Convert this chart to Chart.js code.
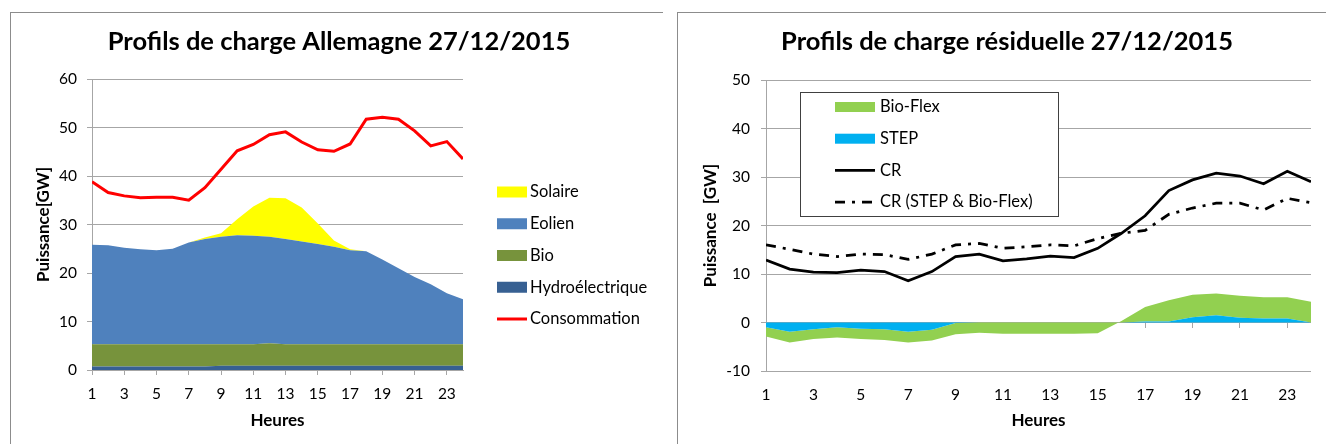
<!DOCTYPE html>
<html><head><meta charset="utf-8">
<script src="https://cdn.jsdelivr.net/npm/chart.js@4.4.1/dist/chart.umd.min.js"></script>
<style>
html,body{margin:0;padding:0;background:#fff;width:1326px;height:444px;overflow:hidden;}
.frame{position:absolute;border-left:1px solid #8c8c8c;border-top:1px solid #8c8c8c;}
canvas{position:absolute;top:0;}
</style></head><body>
<div class="frame" style="left:10px;top:12px;width:652px;height:440px"></div>
<div class="frame" style="left:677px;top:12px;width:660px;height:440px"></div>
<canvas id="c1" width="663" height="444" style="left:0"></canvas>
<canvas id="c2" width="663" height="444" style="left:663px"></canvas>
<script>
// ---------- data ----------
const hours = [1,2,3,4,5,6,7,8,9,10,11,12,13,14,15,16,17,18,19,20,21,22,23,24];
const tickHours = [1,3,5,7,9,11,13,15,17,19,21,23];

// Chart 1 : Allemagne (GW)
const hydro   = [0.7,0.7,0.7,0.7,0.7,0.7,0.7,0.7,0.9,0.9,0.9,0.9,0.9,0.9,0.9,0.9,0.9,0.9,0.9,0.9,0.9,0.9,0.9,0.9];
const bio     = [4.6,4.6,4.6,4.6,4.6,4.6,4.6,4.6,4.4,4.4,4.4,4.6,4.4,4.4,4.4,4.4,4.4,4.4,4.4,4.4,4.4,4.4,4.4,4.4];
const eolien  = [20.5,20.4,19.9,19.6,19.4,19.7,21.0,21.7,22.2,22.5,22.4,22.0,21.7,21.2,20.7,20.1,19.4,19.2,17.5,15.7,13.9,12.4,10.5,9.3];
const solaire = [0,0,0,0,0,0,0,0.3,0.7,3.3,6.0,8.0,8.4,7.0,4.2,1.3,0.2,0,0,0,0,0,0,0];
const consommation = [38.8,36.6,35.9,35.5,35.6,35.6,35.0,37.6,41.4,45.2,46.5,48.5,49.1,47.0,45.4,45.1,46.6,51.7,52.1,51.7,49.3,46.2,47.1,43.5];

// Chart 2 : charge résiduelle (GW)
const step    = [-1.0,-1.9,-1.4,-1.0,-1.3,-1.4,-1.9,-1.5,-0.1,0,0,0,0,0,0,0,0.2,0.2,1.1,1.5,1.0,0.8,0.8,0];
const bioFlex = [-1.9,-2.2,-2.0,-2.1,-2.1,-2.2,-2.2,-2.2,-2.3,-2.1,-2.3,-2.3,-2.3,-2.3,-2.2,0.3,3.0,4.4,4.6,4.5,4.5,4.4,4.4,4.3];
const cr      = [12.9,11.0,10.4,10.3,10.8,10.5,8.6,10.5,13.6,14.1,12.7,13.1,13.7,13.4,15.3,18.4,22.0,27.2,29.4,30.8,30.2,28.6,31.2,29.0];
const crFlex  = [16.0,15.1,14.1,13.6,14.1,14.0,13.0,14.1,16.0,16.3,15.3,15.6,16.0,15.8,17.3,18.4,19.0,22.3,23.6,24.6,24.6,23.2,25.6,24.7];

const pts = arr => hours.map((h,i) => ({x:h, y:arr[i]}));

// ---------- styling ----------
const FONT = 'Lato';
Chart.defaults.font.family = FONT;
Chart.defaults.color = '#000';
const GRID = '#a6a6a6';
const TICK = 15.5, AXT = 17, LEG = 16.5;

const decor = {
  id: 'decor',
  afterDraw(chart, args, o) {
    const ctx = chart.ctx;
    ctx.save();
    ctx.fillStyle = '#000';
    ctx.font = `bold ${o.titleSize}px ${FONT}`;
    ctx.textAlign = 'center';
    ctx.textBaseline = 'alphabetic';
    ctx.fillText(o.title, o.titleX, o.titleY);
    const L = o.legend;
    if (L.box) {
      ctx.fillStyle = '#fff';
      ctx.fillRect(L.box[0], L.box[1], L.box[2], L.box[3]);
      ctx.strokeStyle = '#404040';
      ctx.lineWidth = 1;
      ctx.strokeRect(L.box[0]+0.5, L.box[1]+0.5, L.box[2], L.box[3]);
    }
    L.order.forEach((di, k) => {
      const ds = chart.data.datasets[di];
      const y = L.y + k * L.dy;
      if (ds.fill !== false) {
        ctx.fillStyle = ds.backgroundColor;
        ctx.fillRect(L.x, y - L.sh/2, L.sw, L.sh);
      } else {
        ctx.strokeStyle = ds.borderColor;
        ctx.lineWidth = ds.borderWidth;
        ctx.setLineDash(ds.borderDash || []);
        ctx.beginPath();
        ctx.moveTo(L.x, y); ctx.lineTo(L.x + L.sw, y);
        ctx.stroke();
        ctx.setLineDash([]);
      }
      ctx.fillStyle = '#000';
      ctx.font = `${L.fontSize}px ${FONT}`;
      ctx.textAlign = 'left';
      ctx.textBaseline = 'middle';
      ctx.fillText(ds.label, L.x + L.sw + L.gap, y);
    });
    ctx.restore();
  }
};

function xAxis(height, opts) {
  return Object.assign({
    type: 'linear', min: 1, max: 24,
    afterBuildTicks: a => { a.ticks = tickHours.map(v => ({value: v})); },
    ticks: { font: {size: TICK}, padding: 10, autoSkip: false, maxRotation: 0 },
    grid: { drawOnChartArea: false, tickLength: 5, color: GRID },
    border: { color: GRID },
    title: { display: true, text: 'Heures', font: {size: AXT, weight: 'bold'}, padding: {top: 4, bottom: 4} },
    afterFit: s => { s.height = height; }
  }, opts || {});
}

// ---------- chart 1 ----------
new Chart(document.getElementById('c1'), {
  type: 'line',
  data: {
    datasets: [
      {label: 'Hydroélectrique', data: pts(hydro), backgroundColor: '#376092', borderWidth: 0, fill: 'origin', stack: 'prod'},
      {label: 'Bio', data: pts(bio), backgroundColor: '#77933C', borderWidth: 0, fill: '-1', stack: 'prod'},
      {label: 'Eolien', data: pts(eolien), backgroundColor: '#4F81BD', borderWidth: 0, fill: '-1', stack: 'prod'},
      {label: 'Solaire', data: pts(solaire), backgroundColor: '#FFFF00', borderWidth: 0, fill: '-1', stack: 'prod'},
      {label: 'Consommation', data: pts(consommation), borderColor: '#FF0000', borderWidth: 3, fill: false, stack: 'cons'}
    ]
  },
  options: {
    responsive: false, animation: false,
    layout: { padding: {left: 29, top: 79, right: 200, bottom: 9} },
    elements: { point: {radius: 0}, line: {tension: 0} },
    plugins: {
      legend: {display: false}, tooltip: {enabled: false},
      decor: {
        title: 'Profils de charge Allemagne 27/12/2015', titleSize: 25.5, titleX: 339, titleY: 50,
        legend: {order: [3,2,1,0,4], x: 497, y: 192, dy: 31.75, sw: 30, sh: 11, gap: 3, fontSize: LEG}
      }
    },
    scales: {
      x: xAxis(65),
      y: {
        stacked: true, min: 0, max: 60,
        ticks: { stepSize: 10, font: {size: TICK}, padding: 10 },
        grid: { color: GRID, tickLength: 5 },
        border: { color: GRID },
        title: { display: true, text: 'Puissance[GW]', font: {size: AXT, weight: 'bold'}, padding: {top: 4, bottom: 4} },
        afterFit: s => { s.width = 63; }
      }
    }
  },
  plugins: [decor]
});

// ---------- chart 2 ----------
new Chart(document.getElementById('c2'), {
  type: 'line',
  data: {
    datasets: [
      {label: 'STEP', data: pts(step), backgroundColor: '#00B0F0', borderWidth: 0, fill: 'origin', stack: 'flex'},
      {label: 'Bio-Flex', data: pts(bioFlex), backgroundColor: '#92D050', borderWidth: 0, fill: '-1', stack: 'flex'},
      {label: 'CR', data: pts(cr), borderColor: '#000', borderWidth: 2.75, fill: false, stack: 'cr'},
      {label: 'CR (STEP & Bio-Flex)', data: pts(crFlex), borderColor: '#000', borderWidth: 2.75, borderDash: [10, 7, 3, 7], fill: false, stack: 'crflex'}
    ]
  },
  options: {
    responsive: false, animation: false,
    layout: { padding: {left: 33, top: 80, right: 15, bottom: 9} },
    elements: { point: {radius: 0}, line: {tension: 0} },
    plugins: {
      legend: {display: false}, tooltip: {enabled: false},
      decor: {
        title: 'Profils de charge résiduelle 27/12/2015', titleSize: 25.5, titleX: 344, titleY: 50,
        legend: {order: [1,0,2,3], box: [137, 92, 258, 124], x: 172, y: 107, dy: 31.7, sw: 40, sh: 10, gap: 5, fontSize: LEG}
      }
    },
    scales: {
      x: xAxis(64, {
        grid: { drawOnChartArea: false, drawTicks: true, tickLength: 5, color: 'rgba(0,0,0,0)' },
        border: { display: false }
      }),
      x2: {
        type: 'linear', min: 1, max: 24, position: {y: 0},
        afterBuildTicks: a => { a.ticks = tickHours.map(v => ({value: v})); },
        ticks: { display: false },
        grid: { drawOnChartArea: false, tickLength: 5, color: GRID },
        border: { display: false }
      },
      y: {
        stacked: true, min: -10, max: 50,
        ticks: { stepSize: 10, font: {size: TICK}, padding: 11 },
        grid: { color: GRID, tickLength: 5 },
        border: { color: GRID },
        title: { display: true, text: 'Puissance  [GW]', font: {size: AXT, weight: 'bold'}, padding: {top: 4, bottom: 4} },
        afterFit: s => { s.width = 70; }
      }
    }
  },
  plugins: [decor]
});
</script>
</body></html>
